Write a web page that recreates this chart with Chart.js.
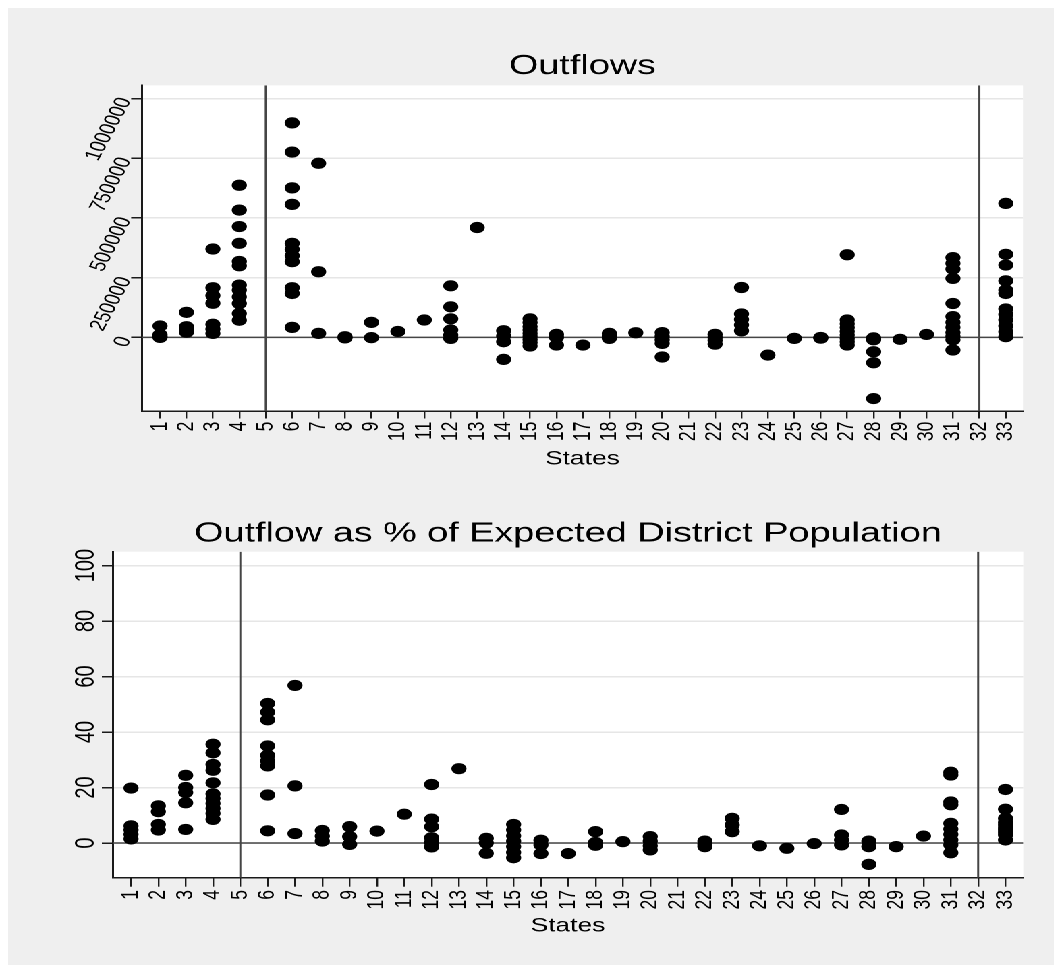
<!DOCTYPE html>
<html>
<head>
<meta charset="utf-8">
<script src="https://cdn.jsdelivr.net/npm/chart.js@4.4.1/dist/chart.umd.min.js"></script>
<style>
  html, body { margin: 0; padding: 0; background: #ffffff; }
  #frame { position: absolute; left: 8px; top: 8px; width: 1046px; height: 957px; background: #efefef; }
  /* the reference graph is stretched horizontally, so the charts are drawn narrow and widened */
  #wrap { position: absolute; left: 0; top: 0; width: 787px; height: 973px; transform: scaleX(1.3494); transform-origin: 0 0; }
  canvas { display: block; }
</style>
</head>
<body>
<div id="frame"></div>
<div id="wrap">
  <canvas id="outflowChart" width="787" height="486"></canvas>
  <canvas id="pctChart" width="787" height="487"></canvas>
</div>
<script>
// State codes on the x axis
const STATES = [1, 2, 3, 4, 5, 6, 7, 8, 9, 10, 11, 12, 13, 14, 15, 16, 17,
  18, 19, 20, 21, 22, 23, 24, 25, 26, 27, 28, 29, 30, 31, 32, 33];

// District outflows, one list per state (state 1 first)
const OUTFLOWS = [
  [48000, 12000, 4000, 0],
  [105000, 45000, 35000, 22000],
  [370000, 208000, 175000, 143000, 55000, 35000, 17000],
  [637000, 533000, 464000, 394000, 318000, 300000, 219000, 198000, 170000, 142000, 100000, 72000],
  [],
  [898000, 776000, 626000, 557000, 394000, 369000, 342000, 317000, 208000, 184000, 42000],
  [729000, 275000, 17000],
  [3000, -2000],
  [63000, -1000],
  [25000],
  [73000],
  [216000, 128000, 78000, 31000, 10000, -4000],
  [460000],
  [28000, 6000, -18000, -92000],
  [78000, 62000, 45000, 31000, 17000, 4000, -9000, -22000, -36000],
  [13000, 0, -32000],
  [-32000],
  [17000, 6000, -4000],
  [19500],
  [20000, 5000, -10000, -25000, -82000],
  [],
  [13000, 0, -12000, -28000],
  [209000, 98000, 75000, 52000, 28000],
  [-74000],
  [-4000],
  [-3000, 0],
  [346000, 73000, 57000, 41000, 25000, 10000, -5000, -18000, -32000],
  [-2000, -10000, -60000, -106000, -256000],
  [-8000],
  [12500],
  [334000, 310000, 286000, 247000, 142000, 87000, 63000, 42000, 20000, 5000, -10000, -53000],
  [],
  [561000, 348000, 303000, 237000, 198000, 184000, 119000, 96000, 73000, 48000, 24000, 3000],
];

// Outflow as % of expected district population, one list per state
const OUTFLOW_PCT = [
  [19.8, 6.2, 4.7, 3.1, 1.5],
  [13.4, 11.3, 6.7, 4.7],
  [24.4, 20, 18.2, 14.5, 4.9],
  [35.6, 32.5, 28.3, 26.2, 21.7, 17.7, 16.1, 14.3, 12.5, 10.7, 8.5],
  [],
  [50.3, 47.2, 44.4, 35, 31.6, 29.6, 27.8, 17.3, 4.4],
  [56.8, 20.6, 3.4],
  [4.5, 2.5, 0.7],
  [5.9, 2.3, -0.5],
  [4.3],
  [10.4],
  [21.1, 8.6, 5.9, 1.9, 0.2, -1.4],
  [26.8],
  [1.7, 0, -3.7],
  [6.7, 4.7, 2.6, 0.7, -1.3, -3.4, -5.3],
  [1, -0.7, -3.8],
  [-3.8],
  [4.1, 0.2, -0.8],
  [0.5],
  [2.3, 0.7, -1, -2.5],
  [],
  [0.7, -0.5, -1.3],
  [8.9, 6.5, 4.1],
  [-1],
  [-1.9],
  [-0.2],
  [12.1, 2.9, 1.1, -0.7],
  [0.7, -1.3, -7.7],
  [-1.3],
  [2.5],
  [25.5, 24.5, 14.8, 13.8, 7.1, 5, 3.1, 1.1, -0.7, -3.5],
  [],
  [19.3, 12.2, 8.9, 7.5, 6.5, 5.5, 4.7, 3.8, 2.9, 1.1],
];

const OUTFLOW_TICKS = [0, 250000, 500000, 750000, 1000000];
const PCT_TICKS = [0, 20, 40, 60, 80, 100];
const REF_X = [5, 32];   // vertical reference lines
const REF_Y = 0;         // horizontal reference line

const COLORS = {
  marker: '#000000',
  refLine: '#454545',
  axis: '#1a1a1a',
  grid: '#e6e6e6',
  text: '#000000',
  plotBg: '#ffffff',
};

Chart.defaults.font.family = '"Liberation Sans", Arial, Helvetica, sans-serif';
Chart.defaults.color = COLORS.text;

const plotBackground = {
  id: 'plotBackground',
  beforeDraw(chart) {
    const { ctx, chartArea: a } = chart;
    ctx.save();
    ctx.fillStyle = COLORS.plotBg;
    ctx.fillRect(a.left, a.top, a.right - a.left, a.bottom - a.top);
    ctx.restore();
  },
};

function toPoints(lists) {
  const pts = [];
  lists.forEach((vals, i) => {
    vals.forEach((v) => pts.push({ x: STATES[i], y: v }));
  });
  return pts;
}

function refDatasets(yMin, yMax, xMin, xMax) {
  const sets = REF_X.map((x) => ({
    data: [{ x: x, y: yMin }, { x: x, y: yMax }],
    showLine: true,
    pointRadius: 0,
    borderColor: COLORS.refLine,
    borderWidth: 1.5,
    order: 2,
  }));
  sets.push({
    data: [{ x: xMin, y: REF_Y }, { x: xMax, y: REF_Y }],
    showLine: true,
    pointRadius: 0,
    borderColor: COLORS.refLine,
    borderWidth: 1.5,
    order: 2,
  });
  return sets;
}

function createStateChart(canvasId, cfg) {
  const ctx = document.getElementById(canvasId).getContext('2d');
  return new Chart(ctx, {
    type: 'scatter',
    data: {
      datasets: [
        {
          data: toPoints(cfg.values),
          pointRadius: 5.6,
          pointBackgroundColor: COLORS.marker,
          pointBorderWidth: 0,
          order: 1,
        },
        ...refDatasets(cfg.yMin, cfg.yMax, cfg.xMin, cfg.xMax),
      ],
    },
    options: {
      responsive: false,
      animation: false,
      devicePixelRatio: 2,
      events: [],
      layout: { padding: { left: 0, right: cfg.padRight, top: 0, bottom: 0 } },
      plugins: {
        legend: { display: false },
        tooltip: { enabled: false },
        title: {
          display: true,
          fullSize: false,   // centre over the plot region, as Stata does
          text: cfg.title,
          color: COLORS.text,
          font: { size: 28, weight: 'normal' },
          padding: cfg.titlePad,
        },
      },
      scales: {
        x: {
          type: 'linear',
          min: cfg.xMin,
          max: cfg.xMax,
          afterBuildTicks: (s) => { s.ticks = STATES.map((v) => ({ value: v })); },
          afterFit: (s) => { s.height = cfg.xHeight; },
          ticks: {
            autoSkip: false,
            minRotation: 90,
            maxRotation: 90,
            padding: cfg.xTickPad,
            font: { size: 17.5 },
            color: COLORS.text,
            callback: (v) => String(v),
          },
          grid: {
            drawOnChartArea: false,
            tickLength: cfg.xTickLen,
            tickColor: COLORS.axis,
            lineWidth: 1.2,
          },
          border: { color: COLORS.axis, width: 1.5 },
          title: {
            display: true,
            text: 'States',
            color: COLORS.text,
            font: { size: 19.5 },
            padding: { top: 0, bottom: cfg.xTitlePad },
          },
        },
        y: {
          type: 'linear',
          min: cfg.yMin,
          max: cfg.yMax,
          afterBuildTicks: (s) => { s.ticks = cfg.yTicks.map((v) => ({ value: v })); },
          afterFit: (s) => { s.width = cfg.yWidth; },
          ticks: {
            minRotation: cfg.yRotation,
            maxRotation: cfg.yRotation,
            crossAlign: cfg.yCrossAlign,
            padding: cfg.yTickPad,
            font: { size: cfg.yFont },
            color: COLORS.text,
            callback: (v) => String(v),
          },
          grid: {
            color: COLORS.grid,
            lineWidth: 1.5,
            tickLength: 8,
            tickColor: COLORS.axis,
          },
          border: { color: COLORS.axis, width: 1.5 },
        },
      },
    },
    plugins: [plotBackground],
  });
}

createStateChart('outflowChart', {
  title: 'Outflows',
  titlePad: { top: 49.5, bottom: 2.3 },
  values: OUTFLOWS,
  yTicks: OUTFLOW_TICKS,
  xMin: 0.316, xMax: 33.65,
  yMin: -308000, yMax: 1055000,
  padRight: 28.9,
  yWidth: 105.2,
  yRotation: 68,
  yCrossAlign: 'near',
  yTickPad: 4.2,
  yFont: 17,
  xHeight: 75,
  xTickLen: 7.5,
  xTickPad: 3.2,
  xTitlePad: 15,
});

createStateChart('pctChart', {
  title: 'Outflow as % of Expected District Population',
  titlePad: { top: 31, bottom: 1.1 },
  values: OUTFLOW_PCT,
  yTicks: PCT_TICKS,
  xMin: 0.328, xMax: 33.65,
  yMin: -12.5, yMax: 105,
  padRight: 28.7,
  yWidth: 83.5,
  yRotation: 90,
  yCrossAlign: 'center',
  yTickPad: -5.3,
  yFont: 20,
  xHeight: 95.3,
  xTickLen: 9,
  xTickPad: 3.3,
  xTitlePad: 35,
});
</script>
</body>
</html>
